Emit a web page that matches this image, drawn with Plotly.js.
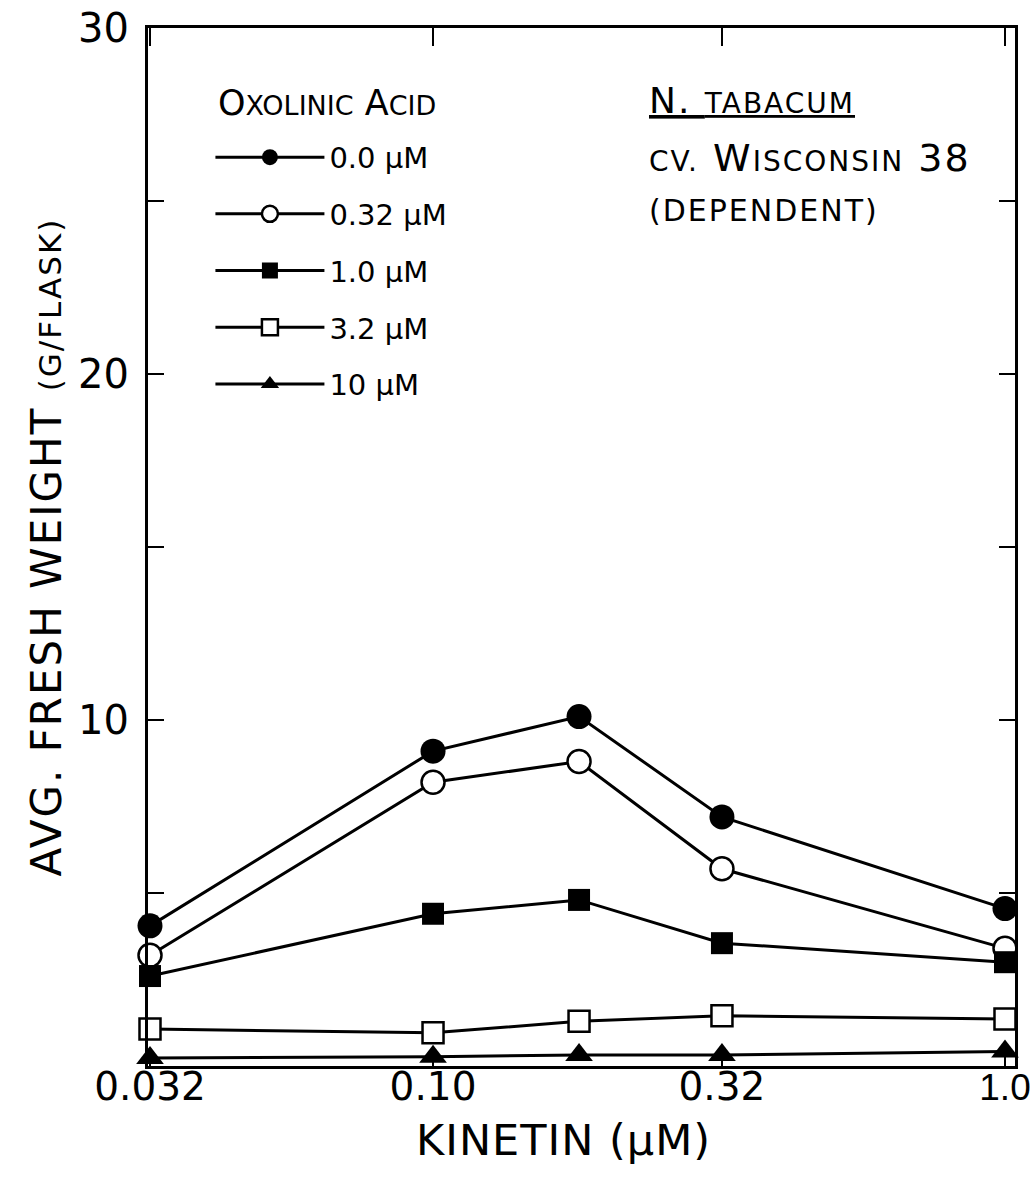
<!DOCTYPE html>
<html>
<head>
<meta charset="utf-8">
<script src="https://cdn.plot.ly/plotly-3.0.1.min.js"></script>
<style>html,body{margin:0;padding:0;background:#fff;}#chart{width:1032px;height:1185px;}</style>
</head>
<body>
<div id="chart"></div>
<script>
// Kinetin concentrations (µM)
const kinetin = [0.032, 0.10, 0.18, 0.32, 1.0];
// Average fresh weight (g/flask) for each oxolinic acid concentration
const oxo_0_0  = [4.05, 9.1, 10.1, 7.2, 4.55];
const oxo_0_32 = [3.2, 8.2, 8.8, 5.7, 3.4];
const oxo_1_0  = [2.6, 4.4, 4.8, 3.55, 3.0];
const oxo_3_2  = [1.07, 0.96, 1.29, 1.45, 1.36];
const oxo_10   = [0.23, 0.27, 0.32, 0.32, 0.42];
const seriesNames = ['0.0 µM', '0.32 µM', '1.0 µM', '3.2 µM', '10 µM'];
const xTickVals = [0.032, 0.10, 0.32, 1.0];
const xTickText = ['0.032', '0.10', '0.32', '1.0'];
const yTickVals = [5, 10, 15, 20, 25, 30];
const yTickText = ['', '10', '', '20', '', '30'];

const FONT = 'DejaVu Sans, sans-serif';
const series = [oxo_0_0, oxo_0_32, oxo_1_0, oxo_3_2, oxo_10];
const markers = [
  {symbol: 'circle', size: 25, color: '#000', line: {color: '#000', width: 0}},
  {symbol: 'circle', size: 23, color: '#fff', line: {color: '#000', width: 2.5}},
  {symbol: 'square', size: 22, color: '#000', line: {color: '#000', width: 0}},
  {symbol: 'square', size: 21, color: '#fff', line: {color: '#000', width: 2.5}},
  {symbol: 'triangle-up', size: 24, color: '#000', line: {color: '#000', width: 0}}
];

const traces = series.map((ys, i) => ({
  x: kinetin, y: ys, type: 'scatter', mode: 'lines+markers',
  name: seriesNames[i], legendgroup: 'g' + i,
  line: {color: '#000', width: 3},
  marker: markers[i], cliponaxis: false
}));

// last tick label drawn in a narrower face so that it stays inside the page
const xTickLabels = xTickText.map((t, i) => i === xTickText.length - 1
  ? '<span style="font-family:\'Liberation Sans\';font-size:37px">' + t + '</span>' : t);

const layout = {
  width: 1032, height: 1185,
  margin: {l: 148, r: 17, t: 28, b: 119},
  paper_bgcolor: '#fff', plot_bgcolor: '#fff',
  font: {family: FONT, color: '#000'},
  showlegend: true,
  legend: {
    x: 0.072, y: 0.9, xanchor: 'left', yanchor: 'top',
    bgcolor: 'rgba(0,0,0,0)', font: {size: 29, family: FONT},
    tracegroupgap: 16, itemwidth: 109
  },
  xaxis: {
    type: 'log', range: [Math.log10(0.032) - 0.0035, 0.0175],
    tickvals: xTickVals, ticktext: xTickLabels,
    ticks: 'inside', ticklen: 18, tickwidth: 2.5, tickcolor: '#000',
    mirror: 'ticks', showline: true, linewidth: 3, linecolor: '#000',
    showgrid: false, zeroline: false,
    tickfont: {size: 39, family: FONT}, ticklabeloverflow: 'allow', ticklabelstandoff: -16
  },
  yaxis: {
    range: [0, 30],
    tickvals: yTickVals, ticktext: yTickText,
    ticks: 'inside', ticklen: 16, tickwidth: 2.5, tickcolor: '#000',
    mirror: 'ticks', showline: true, linewidth: 3, linecolor: '#000',
    showgrid: false, zeroline: false,
    tickfont: {size: 40, family: FONT}, ticklabelstandoff: 8,
    title: {text: '<span style="letter-spacing:2px">AVG. FRESH WEIGHT <span style="font-size:31px">(G/FLASK)</span></span>', font: {size: 42, family: FONT}, standoff: 4}
  },
  annotations: [
    {xref: 'paper', yref: 'paper', x: 0.479, y: -0.0713, xanchor: 'center', yanchor: 'middle',
     text: '<span style="letter-spacing:1px">KINETIN (µM)</span>', showarrow: false,
     font: {size: 43, family: FONT}},
    {xref: 'paper', yref: 'paper', x: 0.078, y: 0.9277, xanchor: 'left', yanchor: 'middle',
     text: 'O<span style="font-size:27px">XOLINIC</span> A<span style="font-size:27px">CID</span>', showarrow: false,
     font: {size: 35, family: FONT}},
    {xref: 'paper', yref: 'paper', x: 0.575, y: 0.93, xanchor: 'left', yanchor: 'middle',
     text: '<span style="letter-spacing:2px"><u>N. <span style="font-size:28px">TABACUM</span></u></span>', showarrow: false,
     font: {size: 36, family: FONT}},
    {xref: 'paper', yref: 'paper', x: 0.575, y: 0.875, xanchor: 'left', yanchor: 'middle',
     text: '<span style="letter-spacing:2px"><span style="font-size:28px">CV.</span> W<span style="font-size:28px">ISCONSIN</span> 38</span>', showarrow: false,
     font: {size: 38, family: FONT}},
    {xref: 'paper', yref: 'paper', x: 0.575, y: 0.824, xanchor: 'left', yanchor: 'middle',
     text: '<span style="letter-spacing:2px">(DEPENDENT)</span>', showarrow: false,
     font: {size: 30, family: FONT}}
  ]
};

Plotly.newPlot('chart', traces, layout, {displayModeBar: false, staticPlot: true});
</script>
</body>
</html>
